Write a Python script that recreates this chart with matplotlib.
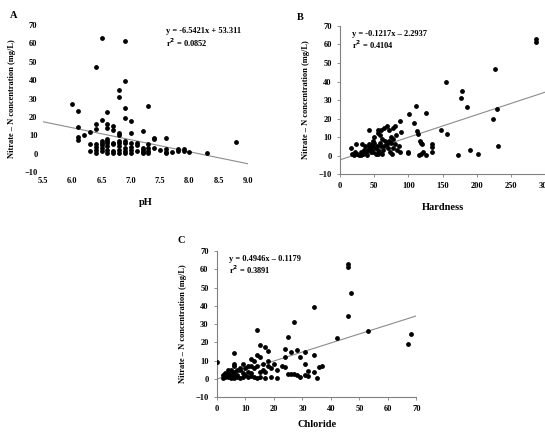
import matplotlib
matplotlib.use('Agg')
import matplotlib.pyplot as plt
import numpy as np

plt.rcParams['font.family'] = ['Liberation Serif', 'DejaVu Serif']
plt.rcParams['font.weight'] = 'bold'

# ---- panel A: pH vs nitrate-N ----
ph = [6.0, 6.1, 6.1, 6.1, 6.1, 6.2, 6.3, 6.3, 6.3,
      6.4, 6.4, 6.4, 6.4, 6.4, 6.4, 6.4,
      6.5, 6.5, 6.5, 6.5, 6.5, 6.5, 6.5,
      6.6, 6.6, 6.6, 6.6, 6.6, 6.6, 6.6, 6.6, 6.6,
      6.7, 6.7, 6.7, 6.7, 6.7, 6.7,
      6.8, 6.8, 6.8, 6.8, 6.8, 6.8, 6.8, 6.8, 6.8,
      6.9, 6.9, 6.9, 6.9, 6.9, 6.9, 6.9, 6.9, 6.9,
      7.0, 7.0, 7.0, 7.0, 7.0, 7.0,
      7.1, 7.1, 7.1,
      7.2, 7.2, 7.2, 7.2, 7.2,
      7.3, 7.3, 7.3, 7.3, 7.3,
      7.4, 7.4, 7.4, 7.5,
      7.6, 7.6, 7.6, 7.6, 7.7,
      7.8, 7.8, 7.9, 7.9, 8.0, 8.3, 8.8]
no3_a = [27, 23, 14.5, 9, 7.5, 10, 12, 5, 1.5,
         47, 16, 13.5, 5, 3.5, 2, 0.5,
         63, 18.5, 7, 6, 4.5, 3, 1.5,
         22.5, 16, 14, 8, 7, 5.5, 4, 2, 0.5,
         15, 13, 6, 5, 1.5, 0.5,
         34.5, 31, 11, 10, 7, 5.5, 4, 2, 0.5,
         61.5, 39.5, 25, 19.5, 7, 6, 3, 1.5, 0.5,
         17.5, 11, 6, 3.5, 2, 0.5,
         5.5, 4.5, 1.5,
         12.5, 3, 2, 1, 0.5,
         26, 5, 3, 1.5, 0.5,
         8.5, 8, 3, 2,
         8.5, 2.5, 1, 0.5, 1,
         2.5, 1.5, 2.5, 1.5, 1, 0.2, 6.5]

# ---- panel B: hardness vs nitrate-N ----
hard = [287, 287, 227, 229, 224, 231, 155, 178, 177, 186,
        148, 157, 173, 190, 202, 111, 101, 126, 108,
        112, 114, 117, 118, 120, 116, 119, 122, 126, 134, 135, 134,
        100, 100, 88, 89, 80, 78, 72, 68, 60, 55, 55, 58, 62, 65,
        16, 17, 20, 22, 24, 25, 28, 30, 32, 34, 35, 38, 40, 42, 42,
        43, 44, 45, 46, 47, 48, 50, 50, 51, 52, 54, 55, 57, 58, 60,
        62, 63, 65, 66, 68, 70, 72, 73, 74, 75, 76, 77, 78, 80, 82,
        84, 86, 88, 45, 40, 48, 56, 30, 36]
no3_b = [63, 61.5, 47, 25, 19.5, 5, 40, 35, 31, 26,
         14, 11.5, 0.5, 3, 1, 27, 22.5, 23, 17.5,
         13, 11.5, 8, 7, 6.5, 0.5, 1, 2, 0.5, 6, 4.5, 2,
         2, 1.5, 18.5, 12.5, 16, 15, 14, 16, 14, 14, 12, 11, 9, 15,
         4, 1, 0.5, 2, 6, 1, 0.5, 2, 6, 1, 3, 2, 0.5, 14, 6,
         5, 4, 3, 6, 5, 2, 10, 7, 4, 1, 5, 3, 2, 7, 5,
         1, 3, 5, 8, 6, 4, 8, 2, 7, 10, 1, 9, 4, 6, 11,
         3, 5, 2, 2, 3, 8, 1, 0.5, 5]

# ---- panel C: chloride vs nitrate-N ----
chl = [0, 46, 46, 47, 46, 34, 42, 53, 67, 68,
       14, 27, 25, 15, 17, 18, 24, 28, 26, 31, 34, 29, 24, 31, 23, 24,
       32, 34, 37, 36, 35, 25, 26, 27, 28, 29, 31, 32, 21, 21, 19, 17, 18, 18,
       14, 15, 12, 13, 16, 14, 12, 13, 16, 17, 11, 12, 10, 9, 8, 8, 6, 6, 6,
       5, 5, 4, 4, 3, 3, 2, 5, 6, 7, 4, 5, 6, 7, 9, 10, 11, 12, 13, 14, 15,
       8, 5, 3, 7, 6, 4, 2, 11, 9, 20, 19, 15]
no3_c = [9, 63, 61.5, 47, 34.5, 39.5, 22.5, 26, 19, 24.5,
         27, 31, 23, 18.5, 17.5, 15, 16.5, 16, 14.5, 14.5, 13, 12, 12, 8, 7, 6.5,
         4.5, 4, 7, 6.5, 0.5, 2.5, 2.5, 2.5, 2, 1, 2, 1.5, 5, 0.5, 1, 0.5, 10, 7,
         13, 12, 11, 10, 8, 7, 7, 6, 5, 4, 4, 3, 2, 1, 5, 6, 7, 8, 14,
         5, 4, 3, 2, 3, 1, 0.5, 1, 0.5, 2, 5, 3, 4, 1, 3, 6, 1, 1.5, 1, 0.5, 1,
         0.5, 0.5, 2, 5, 2, 1, 2, 7, 8, 8, 6, 4]

fits = {'A': (-6.5421, 53.311), 'B': (0.1217, -2.2937), 'C': (0.4946, -0.1179)}
eq_text = {'A': 'y = -6.5421x + 53.311\nr$^2$ = 0.0852',
           'B': 'y = -0.1217x \u2013 2.2937\nr$^2$ = 0.4104',
           'C': 'y = 0.4946x \u2013 0.1179\nr$^2$ = 0.3891'}

fig = plt.figure(figsize=(5.45, 4.33), dpi=100)

panels = [
    ('A', ph, no3_a, [0.079, 0.603, 0.376, 0.339], (5.5, 9.0), np.arange(5.5, 9.01, 0.5), 'pH', (0.6, 0.985), 9),
    ('B', hard, no3_b, [0.624, 0.598, 0.376, 0.342], (0, 300), np.arange(0, 301, 50), 'Hardness', (0.06, 0.975), 9),
    ('C', chl, no3_c, [0.398, 0.083, 0.366, 0.337], (0, 70), np.arange(0, 71, 10), 'Chloride', (0.06, 0.975), 5),
]

for name, xv, yv, rect, xlim, xticks, xlab, eqpos, xpad in panels:
    ax = fig.add_axes(rect)
    ax.scatter(xv, yv, s=6, color='black', zorder=3)
    m, b = fits[name]
    xx = np.array(xlim, dtype=float)
    ax.plot(xx, m * xx + b, color='#8c8c8c', lw=0.8, zorder=2)
    ax.set_xlim(*xlim)
    ax.set_ylim(-10, 70)
    ax.set_xticks(xticks)
    ax.set_yticks(np.arange(-10, 71, 10))
    if name == 'A':
        ax.set_xticklabels(['%.1f' % t for t in xticks])
        for s in ax.spines.values():
            s.set_visible(False)
        ax.tick_params(length=0)
    else:
        ax.spines['top'].set_visible(False)
        ax.spines['right'].set_visible(False)
        for s in ('left', 'bottom'):
            ax.spines[s].set_color('#808080')
            ax.spines[s].set_linewidth(0.8)
        ax.tick_params(length=2, width=0.6, color='#808080')
    ax.tick_params(labelsize=6, pad=4)
    ax.set_xlabel(xlab, fontsize=7.5, fontweight='bold', labelpad=xpad)
    ax.set_ylabel('Nitrate \u2013 N concentration (mg/L)', fontsize=6, fontweight='bold', labelpad=6)
    ax.text(eqpos[0], eqpos[1], eq_text[name], transform=ax.transAxes, fontsize=6,
            fontweight='bold', va='top', ha='left', linespacing=1.1)

fig.text(0.018, 0.975, 'A', fontsize=7.5, fontweight='bold', va='top')
fig.text(0.545, 0.97, 'B', fontsize=7.5, fontweight='bold', va='top')
fig.text(0.325, 0.455, 'C', fontsize=7.5, fontweight='bold', va='top')

fig.savefig('out.png', dpi=100)
